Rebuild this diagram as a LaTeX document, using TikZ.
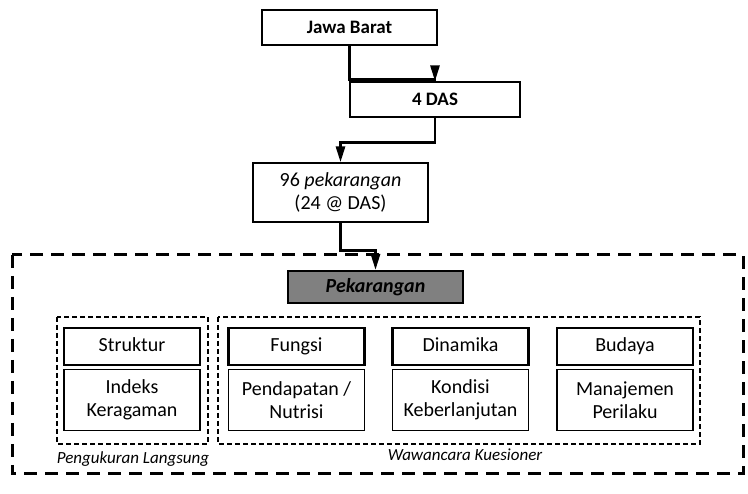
\documentclass[tikz,border=0pt]{standalone}
\usepackage{fontspec}
\setmainfont{Carlito}
\usetikzlibrary{arrows.meta}

\begin{document}
\begin{tikzpicture}[x=1pt,y=-1pt,>=Stealth,
    box/.style={draw,line width=1.3pt,align=center,font=\fontsize{20}{23}\selectfont,inner sep=0pt},
    aspek/.style={box,line width=2.4pt,minimum width=136pt,minimum height=37pt,text height=13.5pt,text depth=4pt},
    isi/.style={box,minimum width=136pt,minimum height=61pt},
    grup/.style={draw,line width=2pt,dash pattern=on 5pt off 3pt},
    ket/.style={font=\fontsize{17}{20}\selectfont\itshape},
    panah/.style={line width=2.8pt,-{Triangle[length=16pt,width=9pt]}}]
      \useasboundingbox (0,0) rectangle (748,494);
      % alur atas
      \node[box,minimum width=175pt,minimum height=35pt,font=\fontsize{19}{22}\selectfont\bfseries] (jabar) at (349.5,27.5) {Jawa Barat};
      \node[box,minimum width=170pt,minimum height=35pt,font=\fontsize{19}{22}\selectfont\bfseries] (das) at (435,99.5) {4 DAS};
      \node[box,minimum width=175pt,minimum height=59pt] (sampel) at (340.5,192.5) {96 \textit{pekarangan}\\(24 @ DAS)};
      % kotak besar
      \draw[line width=3pt,dash pattern=on 13pt off 8pt] (12,255) rectangle (743,474);
      \node[draw,line width=2pt,fill=black!50,minimum width=175pt,minimum height=32pt,inner sep=0pt,
            font=\fontsize{20}{22}\selectfont\bfseries\itshape] (pek) at (375.5,287) {Pekarangan};
      \draw[panah] (jabar.south) -- ++(0,34) -| (das.north);
      \draw[panah] (das.south) -- ++(0,25) -| (sampel.north);
      \draw[panah] (sampel.south) -- ++(0,28) -| (pek.north);
      % kelompok
      \draw[grup] (57,317) rectangle (208,444);
      \draw[grup] (218,317) rectangle (700,444);
      \node[ket] (langsung) at (133,459) {Pengukuran Langsung};
      \node[ket] (wawancara) at (465,455) {Wawancara Kuesioner};
      % aspek
      \node[aspek] (struktur) at (132,346.5) {Struktur};
      \node[aspek] (fungsi) at (296.5,346.5) {Fungsi};
      \node[aspek] (dinamika) at (460.5,346.5) {Dinamika};
      \node[aspek] (budaya) at (625,346.5) {Budaya};
      \node[isi] (indeks) at (132,400) {Indeks\\Keragaman};
      \node[isi] (pendapatan) at (296.5,400) {Pendapatan /\\Nutrisi};
      \node[isi] (kondisi) at (460.5,400) {Kondisi\\Keberlanjutan};
      \node[isi] (manajemen) at (625,400) {Manajemen\\Perilaku};
\end{tikzpicture}
\end{document}
